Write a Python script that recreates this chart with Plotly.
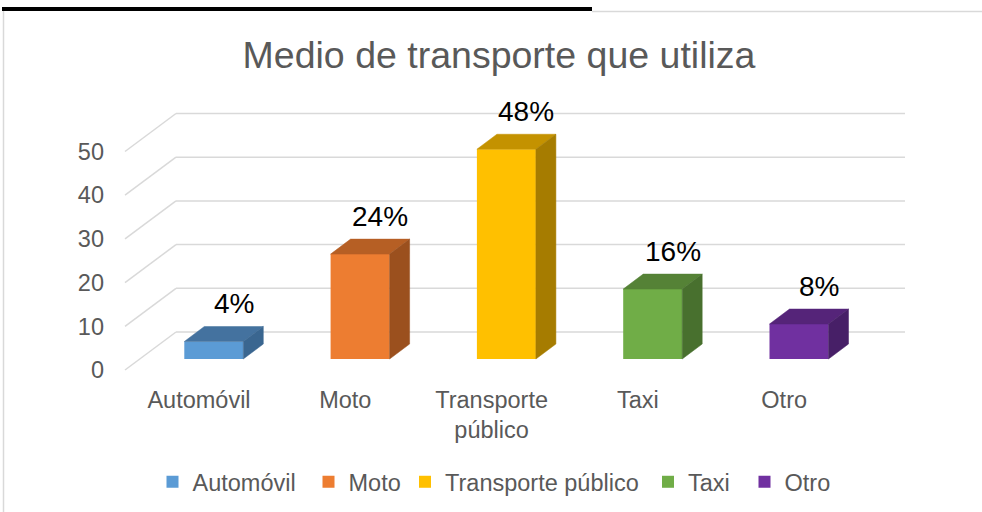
import plotly.graph_objects as go

# ---- data ----
categories = ["Automóvil", "Moto", "Transporte público", "Taxi", "Otro"]
tick_text_categories = ["Automóvil", "Moto", "Transporte<br>público", "Taxi", "Otro"]
values = [4, 24, 48, 16, 8]
y_ticks = [0, 10, 20, 30, 40, 50]
title_text = "Medio de transporte que utiliza"

front_colors = ["#5B9BD5", "#ED7D31", "#FFC000", "#70AD47", "#7030A0"]
top_colors = ["#44729F", "#B65F24", "#C49200", "#558236", "#552479"]
side_colors = ["#3A6690", "#9B501E", "#A67C00", "#48702E", "#471F67"]

# ---- geometry (pixel scale of the plotting area) ----
W, H = 982, 512
ML, MR, MT, MB = 110, 72, 100, 137
PX_PER_CAT = 146.3          # px per category
PX_PER_UNIT = 4.37          # px per value unit
BASE_PX = 359               # pixel y of value 0 at bar front plane
plot_w = W - ML - MR
plot_h = H - MT - MB
x0 = -(213.8 - ML) / PX_PER_CAT
x1 = x0 + plot_w / PX_PER_CAT
y0 = -((H - MB) - BASE_PX) / PX_PER_UNIT
y1 = (BASE_PX - MT) / PX_PER_UNIT

bar_w = 59 / PX_PER_CAT
dx = 20 / PX_PER_CAT        # bar depth offset
dy = 15 / PX_PER_UNIT
front_shift_x = -14.8 / PX_PER_CAT   # front wall relative to bar front
front_shift_y = -11 / PX_PER_UNIT
back_shift_y = 27 / PX_PER_UNIT
grid_left_front = x0 + (125 - ML) / PX_PER_CAT
grid_left_back = x0 + (176 - ML) / PX_PER_CAT
grid_right = x0 + (905 - ML) / PX_PER_CAT


def px_x(p):
    return (p - ML) / plot_w


def px_y(p):
    return ((H - MB) - p) / plot_h


legend_left_px = [152.5, 308.5, 405, 648, 744.5]
legend_ids = ["legend", "legend2", "legend3", "legend4", "legend5"]

fig = go.Figure()

# grid lines (as shapes below traces)
shapes = []
for t in y_ticks:
    shapes.append(dict(type="line", xref="x", yref="y", layer="below",
                       x0=grid_left_front, y0=t + front_shift_y,
                       x1=grid_left_back, y1=t + back_shift_y,
                       line=dict(color="#D9D9D9", width=1.5)))
    shapes.append(dict(type="line", xref="x", yref="y", layer="below",
                       x0=grid_left_back, y0=t + back_shift_y,
                       x1=grid_right, y1=t + back_shift_y,
                       line=dict(color="#D9D9D9", width=1.5)))

# front faces
for i, (cat, v) in enumerate(zip(categories, values)):
    fig.add_trace(go.Bar(x=[i], y=[v], width=bar_w, name=cat, legend=legend_ids[i],
                         marker=dict(color=front_colors[i], line=dict(width=0)),
                         hoverinfo="name+y"))

# top and side faces
for i, v in enumerate(values):
    xl, xr = i - bar_w / 2, i + bar_w / 2
    fig.add_trace(go.Scatter(
        x=[xl, xl + dx, xr + dx, xr, xl], y=[v, v + dy, v + dy, v, v],
        fill="toself", fillcolor=top_colors[i], mode="lines",
        line=dict(width=0.5, color=top_colors[i]), showlegend=False, hoverinfo="skip"))
    fig.add_trace(go.Scatter(
        x=[xr, xr, xr + dx, xr + dx, xr], y=[0, v, v + dy, dy, 0],
        fill="toself", fillcolor=side_colors[i], mode="lines",
        line=dict(width=0.5, color=side_colors[i]), showlegend=False, hoverinfo="skip"))

# data labels
annotations = []
for i, v in enumerate(values):
    annotations.append(dict(x=i + dx, y=v + dy, xref="x", yref="y", text=f"{v}%",
                            showarrow=False, yshift=23, yanchor="middle",
                            font=dict(size=28, color="#000000")))

# frame
shapes.append(dict(type="line", xref="paper", yref="paper", layer="above",
                   x0=px_x(592), x1=px_x(982), y0=px_y(11.5), y1=px_y(11.5),
                   line=dict(color="#D9D9D9", width=1.5)))
shapes.append(dict(type="line", xref="paper", yref="paper", layer="above",
                   x0=px_x(3.5), x1=px_x(3.5), y0=px_y(11), y1=px_y(512),
                   line=dict(color="#D9D9D9", width=1.5)))
shapes.append(dict(type="line", xref="paper", yref="paper", layer="above",
                   x0=px_x(2), x1=px_x(592), y0=px_y(9), y1=px_y(9),
                   line=dict(color="#000000", width=4)))

legend_font = dict(size=23.5, color="#595959")
legend_layouts = {}
for lid, lx in zip(legend_ids, legend_left_px):
    legend_layouts[lid] = dict(orientation="h", x=px_x(lx), xanchor="left",
                               y=px_y(482), yanchor="middle", font=legend_font,
                               bgcolor="rgba(0,0,0,0)")

fig.update_layout(
    width=W, height=H,
    margin=dict(l=ML, r=MR, t=MT, b=MB, pad=0, autoexpand=False),
    paper_bgcolor="white", plot_bgcolor="white",
    font=dict(family="Liberation Sans, Arial, sans-serif", color="#595959", size=23.5),
    title=dict(text=title_text, x=499 / W, xanchor="center", y=1 - 55 / H,
               yanchor="middle", font=dict(size=37.5, color="#595959")),
    barmode="overlay",
    showlegend=True,
    xaxis=dict(range=[x0, x1], showgrid=False, zeroline=False, showline=False,
               tickvals=[i + front_shift_x for i in range(len(categories))],
               ticktext=tick_text_categories, ticks="", ticklabelstandoff=8,
               automargin=False, fixedrange=True),
    yaxis=dict(range=[y0, y1], showgrid=False, zeroline=False, showline=False,
               tickvals=[t + front_shift_y for t in y_ticks],
               ticktext=[str(t) for t in y_ticks], ticks="", ticklabelstandoff=5,
               automargin=False, fixedrange=True),
    shapes=shapes,
    annotations=annotations,
    **legend_layouts,
)

fig.write_html("out.html",
               config={"displayModeBar": False},
               post_script="document.body.style.margin='0';document.body.style.overflow='hidden';")
